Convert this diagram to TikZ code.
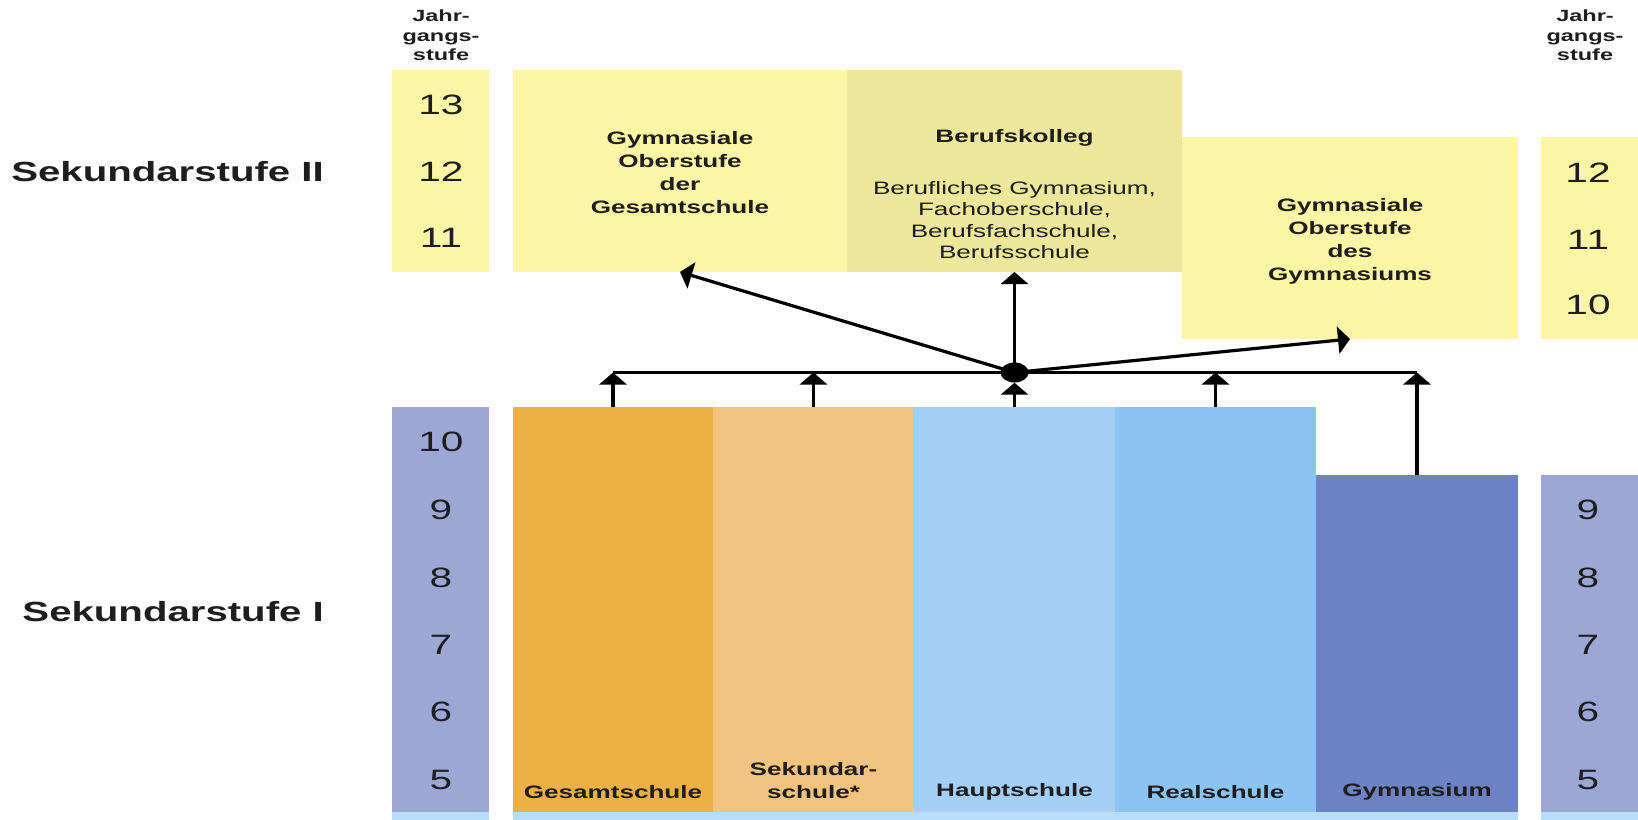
\documentclass[tikz,border=0pt]{standalone}
\usepackage{fontspec}
\setmainfont{Liberation Sans}
\usetikzlibrary{arrows.meta,shapes.geometric}
\definecolor{bgc}{HTML}{FDFDFD}
\definecolor{ylw}{HTML}{FBF5A6}
\definecolor{bkc}{HTML}{EDE79B}
\definecolor{gesc}{HTML}{EEB046}
\definecolor{sekc}{HTML}{F0C47E}
\definecolor{hauc}{HTML}{A5CEF4}
\definecolor{reac}{HTML}{8BC4F2}
\definecolor{gymc}{HTML}{6D83C3}
\definecolor{yrc}{HTML}{9CA7D5}
\definecolor{stripc}{HTML}{B7DDF8}
\definecolor{txt}{HTML}{1E1E1E}
\newcommand{\sx}[1]{\scalebox{1.45}[1]{#1}}
\newcommand{\mlines}[1]{\sx{\begin{tabular}{@{}c@{}}#1\end{tabular}}}
\begin{document}
\begin{tikzpicture}[x=1pt,y=-1pt,
  box/.style={rectangle,inner sep=0pt,outer sep=0pt,draw=none,anchor=north west},
  lbl/.style={inner sep=0pt,text=txt},
  big/.style={lbl,font=\fontsize{27.7}{32}\selectfont\bfseries},
  num/.style={lbl,font=\fontsize{28}{32}\selectfont},
  jg/.style={lbl,font=\fontsize{16.2}{20}\selectfont\bfseries},
  bold/.style={lbl,font=\fontsize{18}{23}\selectfont\bfseries},
  reg/.style={lbl,font=\fontsize{18}{21.5}\selectfont},
  conn/.style={line width=3.2pt,draw=black},
  arr/.style={conn,-{Triangle[width=27pt,length=12pt]}},
  dotn/.style={ellipse,fill=black,inner sep=0pt,minimum width=28pt,minimum height=20pt}
]
\useasboundingbox (0,0) rectangle (1638,819);
\fill[bgc] (0,0) rectangle (1638,819);

% Sekundarstufe II boxes
\node[box,fill=ylw,minimum width=97pt,minimum height=202pt] (yl2) at (392,70) {};
\node[box,fill=ylw,minimum width=334pt,minimum height=202pt] (gos) at (513,70) {};
\node[box,fill=bkc,minimum width=335pt,minimum height=202pt] (bk) at (847,70) {};
\node[box,fill=ylw,minimum width=336pt,minimum height=202pt] (gymos) at (1182,137) {};
\node[box,fill=ylw,minimum width=97pt,minimum height=202pt] (yr2) at (1541,137) {};

% Sekundarstufe I boxes
\node[box,fill=yrc,minimum width=97pt,minimum height=405pt] (yl1) at (392,407) {};
\node[box,fill=gesc,minimum width=200pt,minimum height=405pt] (ges) at (513,407) {};
\node[box,fill=sekc,minimum width=201pt,minimum height=405pt] (sek) at (713,407) {};
\node[box,fill=hauc,minimum width=201pt,minimum height=405pt] (hau) at (914,407) {};
\node[box,fill=reac,minimum width=201pt,minimum height=405pt] (rea) at (1115,407) {};
\node[box,fill=gymc,minimum width=202pt,minimum height=337pt] (gym) at (1316,475) {};
\node[box,fill=yrc,minimum width=97pt,minimum height=337pt] (yr1) at (1541,475) {};

% bottom strips
\node[box,fill=stripc,minimum width=97pt,minimum height=8pt] (s1) at (392,812) {};
\node[box,fill=stripc,minimum width=1005pt,minimum height=8pt] (s2) at (513,812) {};
\node[box,fill=stripc,minimum width=97pt,minimum height=8pt] (s3) at (1541,812) {};

% stage labels
\node[big,anchor=east] (sek2) at (324,172) {\sx{Sekundarstufe II}};
\node[big,anchor=east] (sek1) at (324,612) {\sx{Sekundarstufe I}};

% Jahrgangsstufe headers
\node[jg] (jgl) at (441,37) {\mlines{Jahr-\\gangs-\\stufe}};
\node[jg] (jgr) at (1585,37) {\mlines{Jahr-\\gangs-\\stufe}};

% year numbers
\node[num] (l13) at (441,105) {\sx{13}};
\node[num] (l12) at (441,172) {\sx{12}};
\node[num] (l11) at (441,238) {\sx{11}};
\node[num] (r12) at (1588,173) {\sx{12}};
\node[num] (r11) at (1588,240) {\sx{11}};
\node[num] (r10) at (1588,305) {\sx{10}};
\node[num] (l10) at (441,442) {\sx{10}};
\node[num] (l9) at (441,510) {\sx{9}};
\node[num] (l8) at (441,578) {\sx{8}};
\node[num] (l7) at (441,645) {\sx{7}};
\node[num] (l6) at (441,712) {\sx{6}};
\node[num] (l5) at (441,780) {\sx{5}};
\node[num] (r9) at (1588,510) {\sx{9}};
\node[num] (r8) at (1588,578) {\sx{8}};
\node[num] (r7) at (1588,645) {\sx{7}};
\node[num] (r6) at (1588,712) {\sx{6}};
\node[num] (r5) at (1588,780) {\sx{5}};

% box texts, upper
\node[bold] (tgos) at (680,174) {\mlines{Gymnasiale\\Oberstufe\\der\\Gesamtschule}};
\node[bold] (tbk1) at (1014.5,138) {\sx{Berufskolleg}};
\node[reg] (tbk2) at (1014.5,222) {\mlines{Berufliches Gymnasium,\\Fachoberschule,\\Berufsfachschule,\\Berufsschule}};
\node[bold] (tgymos) at (1350,241) {\mlines{Gymnasiale\\Oberstufe\\des\\Gymnasiums}};

% box texts, lower
\node[bold] (tges) at (613,792) {\sx{Gesamtschule}};
\node[bold] (tsek) at (813.5,782) {\mlines{Sekundar-\\schule*}};
\node[bold] (thau) at (1014.5,792) {\sx{Hauptschule}};
\node[bold] (trea) at (1215.5,792) {\sx{Realschule}};
\node[bold] (tgym) at (1417,792) {\sx{Gymnasium}};

% connectors
\node[dotn] (dot) at (1014.5,372.5) {};
\coordinate (hl) at (ges.north |- dot);
\coordinate (hr) at (gym.north |- dot);
\draw[conn] (hl) -- (hr);
\draw[arr] (ges.north) -- (hl);
\draw[arr] (sek.north) -- (sek.north |- dot);
\draw[arr] (hau.north) -- (dot.south);
\draw[arr] (rea.north) -- (rea.north |- dot);
\draw[arr] (gym.north) -- (hr);
\draw[arr] (dot.center) -- (gos.south);
\draw[arr] (dot.center) -- (bk.south);
\draw[arr] (dot.center) -- (gymos.south);
\end{tikzpicture}
\end{document}
